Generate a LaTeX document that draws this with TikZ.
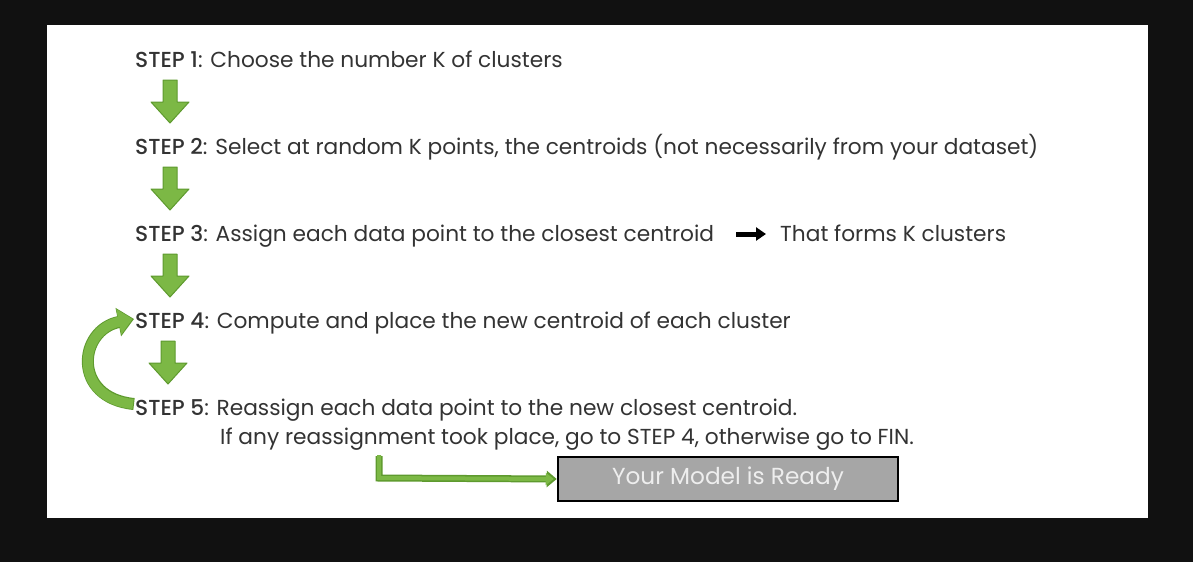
\documentclass[tikz,border=0pt]{standalone}
\usepackage{fontspec}
\setmainfont{Poppins}[UprightFont=*-Regular,BoldFont=*-Medium]
\usetikzlibrary{arrows.meta}
\definecolor{gfill}{HTML}{7CB845}
\definecolor{gdark}{HTML}{5E9A2E}
\definecolor{txt}{HTML}{333333}
\tikzset{
  steptext/.style={anchor=base west, inner sep=0pt, text=txt, font=\fontsize{21.7}{25}\selectfont},
  downarrow/.style={fill=gfill, draw=gdark, line width=1pt, line join=round},
}
\newcommand{\dnarrow}[2]{% x, ytop
  \filldraw[downarrow] (#1-7,#2) -- (#1+7,#2) -- (#1+7,#2+22) -- (#1+19,#2+22) -- (#1,#2+43) -- (#1-19,#2+22) -- (#1-7,#2+22) -- cycle;}
\begin{document}
\begin{tikzpicture}[x=1pt,y=-1pt]
\useasboundingbox (0,0) rectangle (1193,562);
\fill[fill={rgb,255:red,17;green,17;blue,17}] (0,0) rectangle (1193,562);
\fill[white] (47,25) rectangle (1148,518);
\node[steptext] (s1) at (135,67) {\textbf{STEP 1}: Choose the number K of clusters};
\node[steptext] (s2) at (135,154) {\textbf{STEP 2}: Select at random K points, the centroids (not necessarily from your dataset)};
\node[steptext] (s3) at (135,241) {\textbf{STEP 3}: Assign each data point to the closest centroid};
\node[steptext] (s3b) at (780,241) {That forms K clusters};
\node[steptext] (s4) at (135,328) {\textbf{STEP 4}: Compute and place the new centroid of each cluster};
\node[steptext] (s5) at (135,415) {\textbf{STEP 5}: Reassign each data point to the new closest centroid.};
\node[steptext] (s5b) at (220,444) {If any reassignment took place, go to STEP 4, otherwise go to FIN.};
\dnarrow{170}{80}
\dnarrow{170}{167}
\dnarrow{170}{254}
\dnarrow{168}{341}
\coordinate (a3) at (736,234);
\coordinate (b3) at (766,234);
\draw[line width=5pt, black, -{Triangle[width=13pt,length=10pt]}] (a3) -- (b3);
\coordinate (c5) at (134,404);
\coordinate (c4) at (134,319);
\draw[gdark, line width=12pt, -{Triangle[width=28pt,length=16pt]}] (c5) .. controls (72,398) and (78,330) .. (c4);
\draw[gfill, line width=10pt, -{Triangle[width=25pt,length=14pt]}] ([xshift=-1pt]c5) .. controls (72,398) and (78,330) .. ([xshift=-1.5pt]c4);
\node[draw=black, line width=2.5pt, fill={rgb,255:red,166;green,166;blue,166}, minimum width=340pt, minimum height=44pt, inner sep=0pt, text={rgb,255:red,238;green,238;blue,238}, font=\fontsize{23.2}{27}\selectfont] (box) at (728,479) {Your Model is Ready};
\coordinate (lstart) at (379,456);
\coordinate (lcorner) at (379,478);
\draw[gdark, line width=7pt, -{Triangle[width=16pt,length=10pt]}] (lstart) -- (lcorner) -- (box.west);
\draw[gfill, line width=4pt, -{Triangle[width=12pt,length=8pt]}] ([yshift=1pt]lstart) -- (lcorner) -- ([xshift=-3pt]box.west);
\end{tikzpicture}
\end{document}
